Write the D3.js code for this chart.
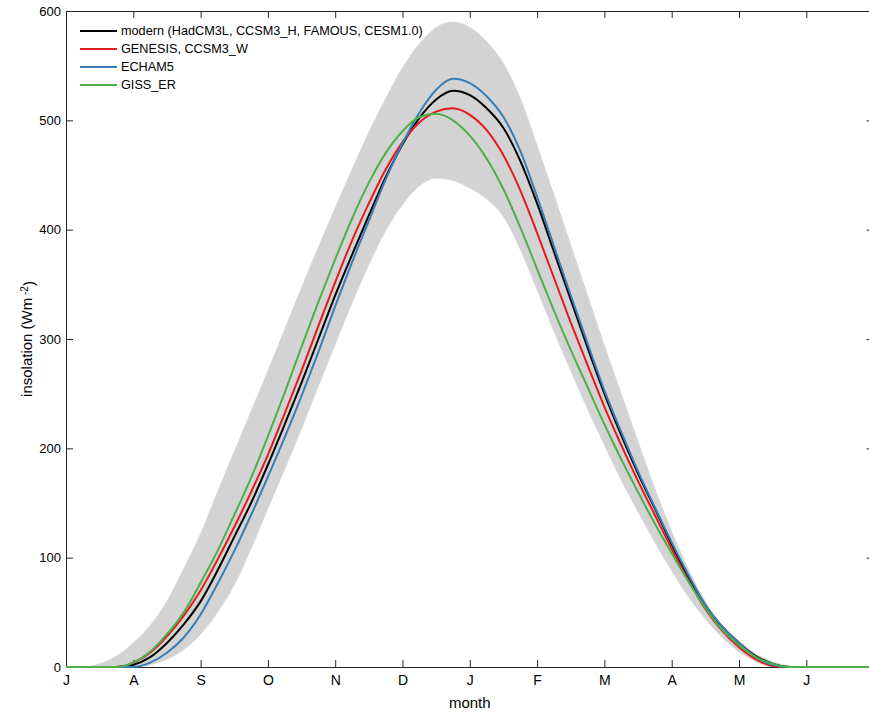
<!DOCTYPE html>
<html>
<head>
<meta charset="utf-8">
<script src="https://cdn.jsdelivr.net/npm/d3@7"></script>
<style>
  body { margin: 0; background: #fff; }
  svg { font-family: "Liberation Sans", Arial, Helvetica, sans-serif; }
  .axis path, .axis line { stroke: #262626; }
  .axis text { fill: #000; font-size: 13px; }
</style>
</head>
<body>
<div id="chart"></div>
<script>
// x positions in months since the start of July
var months = [0, 0.25, 0.5, 0.75, 1, 1.25, 1.5, 1.75, 2, 2.25, 2.5, 2.75, 3, 3.25, 3.5, 3.75,
  4, 4.25, 4.5, 4.75, 5, 5.25, 5.5, 5.75, 6, 6.25, 6.5, 6.75, 7, 7.25, 7.5, 7.75,
  8, 8.25, 8.5, 8.75, 9, 9.25, 9.5, 9.75, 10, 10.25, 10.5, 10.75, 11, 11.25, 11.5, 11.75, 12];

var monthLabels = ["J", "A", "S", "O", "N", "D", "J", "F", "M", "A", "M", "J"];
var yTicks = [0, 100, 200, 300, 400, 500, 600];

// envelope of the grey ensemble
var ensembleMax = [0, 0, 3, 10, 22, 38, 60, 90, 122, 160, 197, 234, 271, 309, 347, 384,
  420, 455, 489, 520, 548, 570, 585, 590, 585, 572, 552, 520, 477, 432, 386, 340,
  294, 250, 206, 163, 124, 89, 60, 38, 24, 12, 5, 1, 0, 0, 0, 0, 0];
var ensembleMin = [0, 0, 0, 0, 0, 2, 7, 16, 30, 50, 75, 108, 145, 181, 218, 257,
  295, 333, 368, 399, 423, 440, 447, 445, 438, 428, 412, 382, 345, 307, 271, 236,
  203, 171, 142, 114, 88, 64, 44, 27, 14, 5, 0, 0, 0, 0, 0, 0, 0];

var modern = [0, 0, 0, 0, 2, 9, 22, 39, 60, 88, 119, 150, 185, 222, 260, 300,
  340, 377, 413, 448, 478, 502, 519, 527, 523, 511, 493, 463, 424, 380, 336, 292,
  250, 212, 177, 145, 112, 82, 56, 37, 22, 10, 3, 0, 0, 0, 0, 0, 0];
var genesis = [0, 0, 0, 0, 4, 13, 28, 47, 70, 98, 128, 160, 194, 232, 271, 312,
  352, 390, 424, 455, 480, 498, 508, 511, 505, 491, 468, 436, 397, 356, 315, 276,
  238, 203, 170, 139, 108, 79, 53, 33, 18, 7, 1, 0, 0, 0, 0, 0, 0];
var echam5 = [0, 0, 0, 0, 0, 4, 13, 27, 48, 76, 106, 139, 174, 210, 248, 288,
  330, 370, 408, 446, 479, 507, 528, 538, 534, 522, 503, 472, 430, 385, 340, 296,
  253, 215, 179, 146, 114, 84, 57, 37, 22, 9, 2, 0, 0, 0, 0, 0, 0];
var gissEr = [0, 0, 0, 0, 4, 14, 30, 50, 77, 106, 139, 173, 211, 251, 293, 334,
  373, 410, 443, 470, 490, 503, 506, 500, 486, 465, 437, 402, 364, 326, 290, 256,
  222, 190, 160, 131, 104, 78, 54, 34, 20, 9, 3, 0, 0, 0, 0, 0, 0];

var seriesNames = ["modern (HadCM3L, CCSM3_H, FAMOUS, CESM1.0)", "GENESIS, CCSM3_W", "ECHAM5", "GISS_ER"];
var seriesColors = ["#000000", "#e41a1c", "#377eb8", "#4daf4a"];
var seriesValues = [modern, genesis, echam5, gissEr];

var margin = {top: 11, left: 66, bottom: 45},
    widthGlobal = 869,
    heightGlobal = 712,
    width = 807.6,
    height = heightGlobal - margin.top - margin.bottom,

    x = d3.scaleLinear().domain([0, 12]).range([0, width]),
    y = d3.scaleLinear().domain([0, 600]).range([height, 0]),

    svg = d3.select("#chart").append("svg")
        .attr("width", widthGlobal)
        .attr("height", heightGlobal),
    plot = svg.append("g")
        .attr("transform", "translate(" + margin.left + "," + margin.top + ")");

// grey ensemble band
var band = d3.area()
    .x(function (d, i) { return x(months[i]); })
    .y0(function (d, i) { return y(ensembleMin[i]); })
    .y1(function (d, i) { return y(ensembleMax[i]); })
    .curve(d3.curveMonotoneX);
plot.append("path")
    .datum(months)
    .attr("d", band)
    .attr("fill", "#d3d3d3")
    .attr("stroke", "#d8d8d8")
    .attr("stroke-width", 0.8);

// axes (ticks pointing inwards, box all round)
var tickIdx = d3.range(monthLabels.length);
plot.append("g").attr("class", "axis")
    .attr("transform", "translate(0," + height + ")")
    .call(d3.axisBottom(x).tickValues(tickIdx)
        .tickFormat(function (d) { return monthLabels[d]; })
        .tickSizeInner(-7).tickSizeOuter(0).tickPadding(8))
    .selectAll("text").style("font-size", "14px");
plot.append("g").attr("class", "axis")
    .call(d3.axisTop(x).tickValues(tickIdx).tickFormat("")
        .tickSizeInner(-7).tickSizeOuter(0));
plot.append("g").attr("class", "axis")
    .call(d3.axisLeft(y).tickValues(yTicks)
        .tickSizeInner(-7).tickSizeOuter(0).tickPadding(5));
plot.append("g").attr("class", "axis")
    .attr("transform", "translate(" + width + ",0)")
    .call(d3.axisRight(y).tickValues(yTicks).tickFormat("")
        .tickSizeInner(-7).tickSizeOuter(0));

// model curves
var line = d3.line()
    .x(function (d, i) { return x(months[i]); })
    .y(function (d) { return y(d); })
    .curve(d3.curveMonotoneX);
plot.append("g").selectAll(".series")
    .data(seriesValues)
    .enter().append("path")
    .attr("class", "series")
    .attr("d", line)
    .attr("fill", "none")
    .attr("stroke", function (d, i) { return seriesColors[i]; })
    .attr("stroke-width", 2);

// legend
var legend = plot.append("g").selectAll(".legend")
    .data(seriesNames)
    .enter().append("g")
    .attr("class", "legend")
    .attr("transform", function (d, i) { return "translate(14," + (20 + i * 18) + ")"; });
legend.append("line")
    .attr("x1", 0).attr("x2", 37)
    .attr("stroke", function (d, i) { return seriesColors[i]; })
    .attr("stroke-width", 2);
legend.append("text")
    .attr("x", 41)
    .attr("dy", "0.35em")
    .style("font-size", "12.7px")
    .text(function (d) { return d; });

// axis titles
svg.append("text")
    .attr("x", margin.left + x(6))
    .attr("y", 708)
    .attr("text-anchor", "middle")
    .style("font-size", "15px")
    .text("month");
var yTitle = svg.append("text")
    .attr("transform", "translate(32," + (margin.top + height / 2) + ") rotate(-90)")
    .attr("text-anchor", "middle")
    .style("font-size", "15px");
yTitle.append("tspan").text("insolation (Wm");
yTitle.append("tspan").attr("dy", "-0.45em").style("font-size", "10px").text(" -2");
yTitle.append("tspan").attr("dy", "0.45em").text(")");
</script>
</body>
</html>
